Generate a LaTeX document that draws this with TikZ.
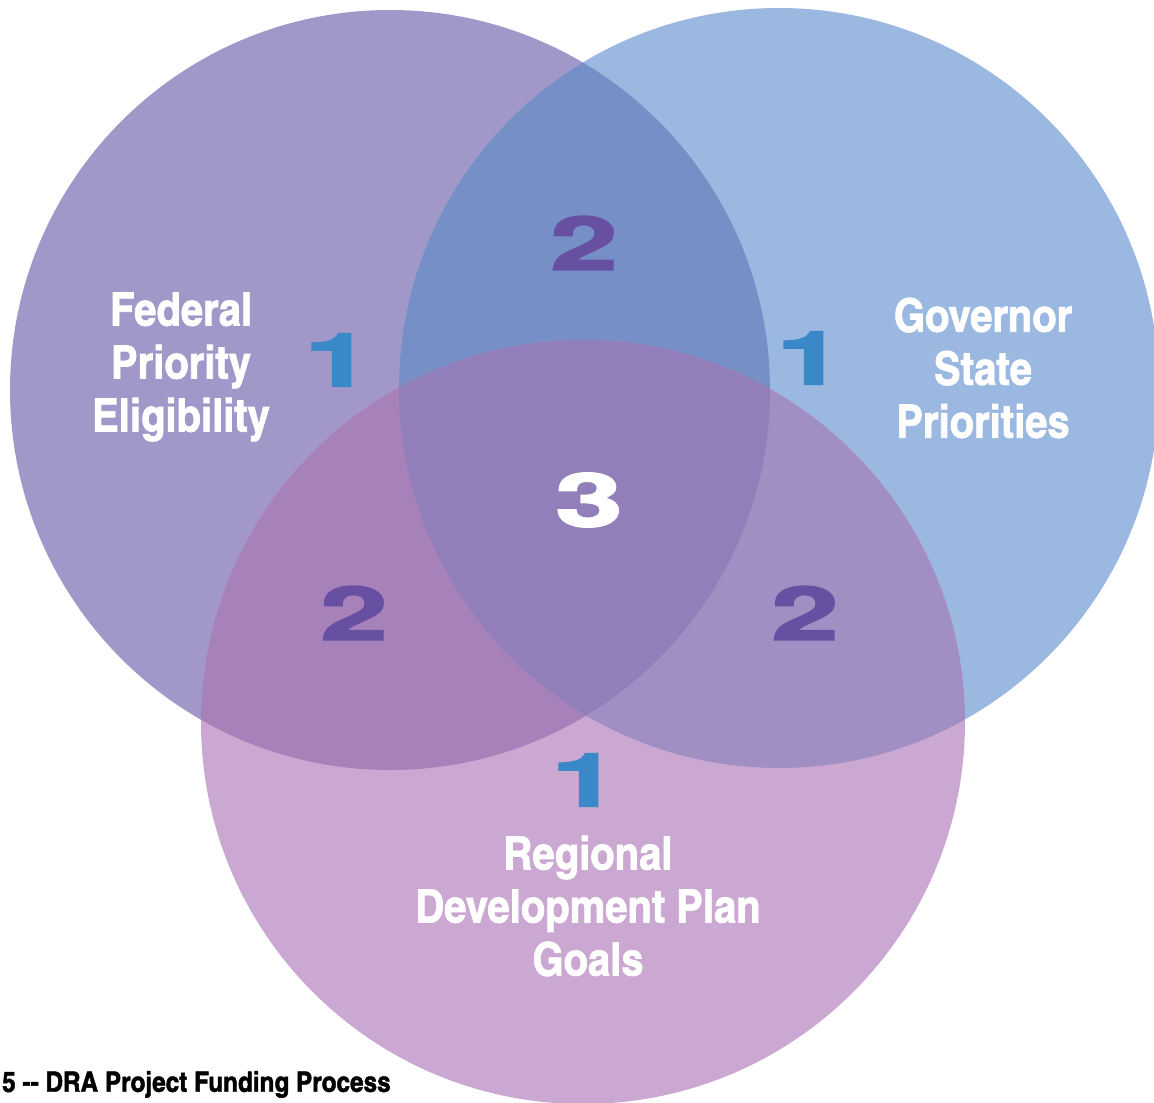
\documentclass[tikz,border=0pt]{standalone}
\usepackage{fontspec}
\newfontfamily\condfont{texgyreheroscn}[Extension=.otf,UprightFont=*-regular,BoldFont=*-bold,BoldFeatures={FakeBold=1.6,FakeStretch=1.06}]
\newfontfamily\numfont{texgyreheros}[Extension=.otf,UprightFont=*-regular,BoldFont=*-bold,BoldFeatures={FakeBold=2.2}]

\definecolor{fedcol}{HTML}{A198C9}
\definecolor{govcol}{HTML}{9BB8E0}
\definecolor{regcol}{HTML}{CBA8D1}
\definecolor{fedgov}{HTML}{7690C7}
\definecolor{fedreg}{HTML}{A681BA}
\definecolor{govreg}{HTML}{A18FC4}
\definecolor{allcol}{HTML}{927EB9}
\definecolor{onecol}{HTML}{3B88C9}
\definecolor{twocol}{HTML}{6750A2}

\newcommand{\bignum}[1]{\scalebox{1.55}[0.95]{\bfseries #1}}

\tikzset{
    label/.style={text=white, align=center, font=\condfont\bfseries\fontsize{46}{53}\selectfont},
    one/.style={text=onecol, font=\numfont\bfseries\fontsize{78}{78}\selectfont},
    two/.style={text=twocol, font=\numfont\bfseries\fontsize{78}{78}\selectfont},
    three/.style={text=white, font=\numfont\bfseries\fontsize{78}{78}\selectfont}
}

\begin{document}
\begin{tikzpicture}[x=1pt,y=-1pt]
    \useasboundingbox (0,0) rectangle (1154,1103);

    % Centres of the three circles
    \coordinate (fed) at (390,390);
    \coordinate (gov) at (779,388);
    \coordinate (reg) at (583,722);
    \def\rad{380}

    % Circles
    \fill [fedcol] (fed) circle (\rad);
    \fill [govcol] (gov) circle (\rad);
    \fill [regcol] (reg) circle (382);

    % Overlaps of two circles
    \begin{scope}
        \clip (fed) circle (\rad);
        \fill [fedgov] (gov) circle (\rad);
        \fill [fedreg] (reg) circle (382);
    \end{scope}
    \begin{scope}
        \clip (gov) circle (\rad);
        \fill [govreg] (reg) circle (382);
    \end{scope}

    % Overlap of all three
    \begin{scope}
        \clip (fed) circle (\rad);
        \clip (gov) circle (\rad);
        \fill [allcol] (reg) circle (382);
    \end{scope}

    % Labels
    \node [label] (federal) at (181,367) {Federal\\Priority\\Eligibility};
    \node [label] (governor) at (983,368) {Governor\\State\\Priorities};
    \node [label] (regional) at (588,906) {Regional\\Development Plan\\Goals};

    % Numbers
    \node [one] (onefed) at (338,360) {\bignum{1}};
    \node [one] (onegov) at (810,358) {\bignum{1}};
    \node [one] (onereg) at (585,780) {\bignum{1}};
    \node [two] (twotop) at (584,243) {\bignum{2}};
    \node [two] (twoleft) at (354,613) {\bignum{2}};
    \node [two] (tworight) at (805,613) {\bignum{2}};
    \node [three] (threemid) at (589,500) {\bignum{3}};

    % Caption
    \node [anchor=south west, inner sep=0pt, font=\condfont\bfseries\fontsize{28}{30}\selectfont]
        (caption) at (2,1098) {5 -- DRA Project Funding Process};
\end{tikzpicture}
\end{document}
